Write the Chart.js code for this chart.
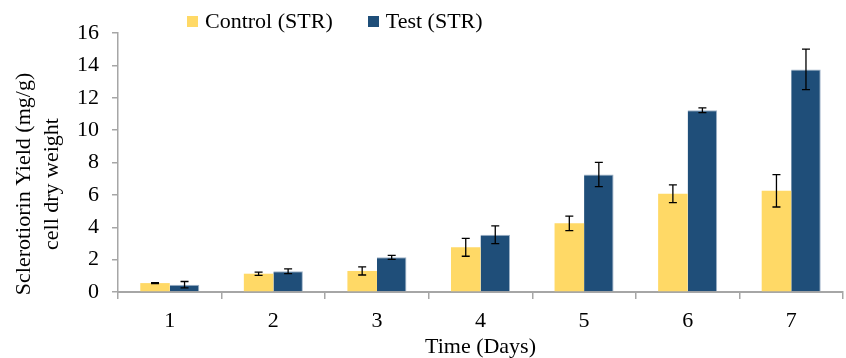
<!DOCTYPE html>
<html>
<head>
<meta charset="utf-8">
<script src="https://cdn.jsdelivr.net/npm/chart.js@4.4.1/dist/chart.umd.min.js"></script>
<style>
  body { margin: 0; background: #fff; }
  .wrap { position: relative; width: 846px; height: 358px; }
  .legend { position: absolute; left: 187px; top: 8px; display: flex; font-family: "Liberation Serif", serif; font-size: 22px; color: #000; }
  .legend .item { display: flex; align-items: center; margin-right: 35px; }
  .legend .box { width: 11px; height: 11px; margin-right: 7px; }
</style>
</head>
<body>
<div class="wrap">
  <canvas id="chart" width="846" height="358"></canvas>
  <div class="legend"></div>
</div>
<script>
const days = ["1", "2", "3", "4", "5", "6", "7"];
const control = [0.55, 1.13, 1.3, 2.76, 4.24, 6.07, 6.25];
const controlErr = [0.03, 0.1, 0.25, 0.55, 0.45, 0.55, 1.0];
const test = [0.45, 1.28, 2.14, 3.54, 7.26, 11.23, 13.75];
const testErr = [0.2, 0.15, 0.12, 0.55, 0.75, 0.15, 1.25];
const seriesNames = ["Control (STR)", "Test (STR)"];
const colors = ["#FFD966", "#1F4E79"];

const serif = "'Liberation Serif', 'Times New Roman', serif";
const axisGray = "#a6a6a6";

// error bars drawn from each bar's own scale position
const errorBars = {
  id: "errorBars",
  afterDatasetsDraw(chart) {
    const ctx = chart.ctx;
    const y = chart.scales.y;
    const errs = [controlErr, testErr];
    ctx.save();
    ctx.strokeStyle = "#000";
    ctx.lineWidth = 1.3;
    chart.data.datasets.forEach((ds, di) => {
      const meta = chart.getDatasetMeta(di);
      meta.data.forEach((bar, i) => {
        const v = ds.data[i];
        const e = errs[di][i];
        const top = y.getPixelForValue(v + e);
        const bot = y.getPixelForValue(v - e);
        ctx.beginPath();
        ctx.moveTo(bar.x, top);
        ctx.lineTo(bar.x, bot);
        ctx.moveTo(bar.x - 4, top);
        ctx.lineTo(bar.x + 4, top);
        ctx.moveTo(bar.x - 4, bot);
        ctx.lineTo(bar.x + 4, bot);
        ctx.stroke();
      });
    });
    ctx.restore();
  },
};

// two-line y title, centred a bit lower than the axis middle
const yTitle = {
  id: "yTitle",
  afterDraw(chart) {
    const ctx = chart.ctx;
    ctx.save();
    ctx.translate(24, 184);
    ctx.rotate(-Math.PI / 2);
    ctx.font = "22px " + serif;
    ctx.fillStyle = "#000";
    ctx.textAlign = "center";
    ctx.textBaseline = "middle";
    ctx.fillText("Sclerotiorin Yield (mg/g)", 0, 0);
    ctx.fillText("cell dry weight", 0, 28);
    ctx.restore();
  },
};

new Chart(document.getElementById("chart"), {
  type: "bar",
  data: {
    labels: days,
    datasets: [
      { label: seriesNames[0], data: control, backgroundColor: colors[0] },
      { label: seriesNames[1], data: test, backgroundColor: colors[1], borderColor: "#9fb3c8", borderWidth: { top: 1, right: 1 } },
    ],
  },
  options: {
    responsive: false,
    animation: false,
    categoryPercentage: 0.57,
    barPercentage: 1,
    layout: { padding: { top: 33, right: 3, left: 0, bottom: 0 } },
    plugins: {
      legend: { display: false },
      tooltip: { enabled: false },
    },
    scales: {
      x: {
        grid: { drawOnChartArea: false, drawTicks: true, tickLength: 7, color: axisGray, lineWidth: 1.5 },
        border: { color: axisGray, width: 2 },
        ticks: { color: "#000", font: { family: serif, size: 22 }, padding: 9 },
        title: { display: true, text: "Time (Days)", color: "#000", font: { family: serif, size: 22, lineHeight: 1.0 }, padding: { top: 0, bottom: 0 } },
        afterFit: (s) => { s.height = 66; },
      },
      y: {
        min: 0,
        max: 16,
        ticks: { stepSize: 2, color: "#000", font: { family: serif, size: 22 }, padding: 13 },
        grid: { drawOnChartArea: false, drawTicks: true, tickLength: 6, color: axisGray, lineWidth: 1.5 },
        border: { color: axisGray, width: 1.5 },
        afterFit: (s) => { s.width = 118; },
      },
    },
  },
  plugins: [errorBars, yTitle],
});

const legend = document.querySelector(".legend");
seriesNames.forEach((name, i) => {
  const item = document.createElement("div");
  item.className = "item";
  item.innerHTML = `<span class="box" style="background:${colors[i]}"></span>${name}`;
  legend.appendChild(item);
});
</script>
</body>
</html>
